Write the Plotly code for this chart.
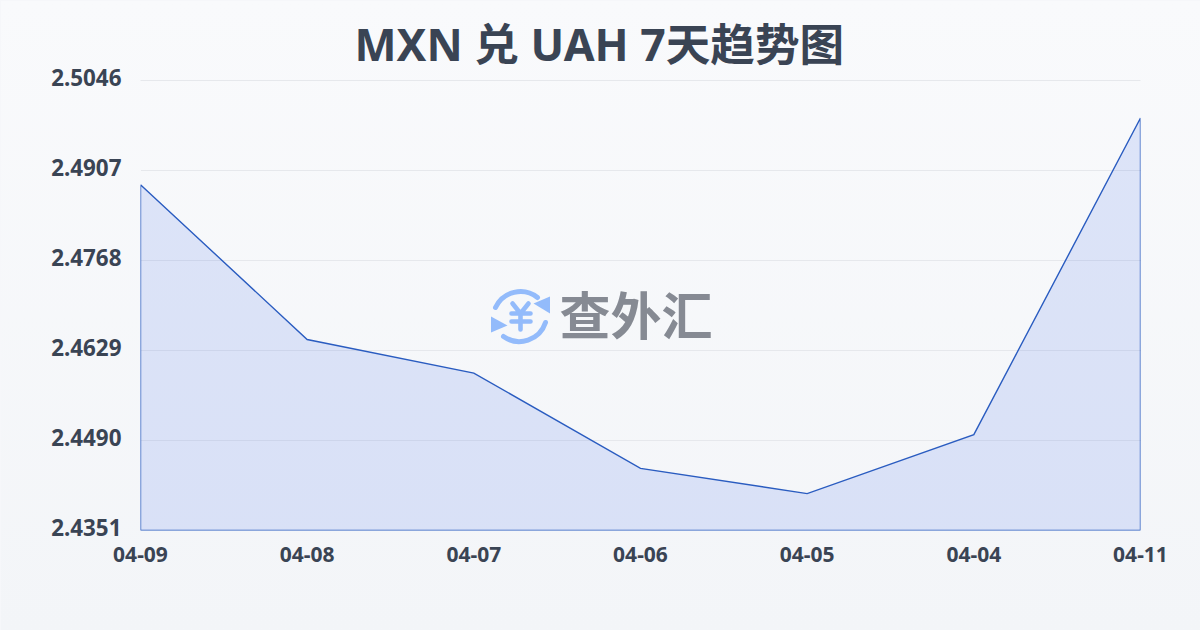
import base64
import plotly.graph_objects as go

TITLE = "MXN 兑 UAH 7天趋势图"
WATERMARK = "查外汇"
dates = ["04-09", "04-08", "04-07", "04-06", "04-05", "04-04", "04-11"]
rates = [2.4885, 2.4646, 2.4594, 2.4447, 2.4408, 2.4499, 2.4988]
y_ticks = [2.4351, 2.4490, 2.4629, 2.4768, 2.4907, 2.5046]
y_labels = ["2.4351", "2.4490", "2.4629", "2.4768", "2.4907", "2.5046"]

FONT = "'Noto Sans', 'Noto Sans CJK SC', sans-serif"
INK = "#3a4454"


def data_uri(svg):
    return "data:image/svg+xml;base64," + base64.b64encode(svg.encode("utf-8")).decode()


background = data_uri(
    '<svg xmlns="http://www.w3.org/2000/svg" width="1200" height="630" preserveAspectRatio="none">'
    '<defs><linearGradient id="g" x1="0" y1="0" x2="0" y2="1">'
    '<stop offset="0" stop-color="#f9fafc"/><stop offset="1" stop-color="#f3f5f8"/>'
    '</linearGradient></defs><rect width="1200" height="630" fill="url(#g)"/></svg>'
)

logo = data_uri(
    '<svg xmlns="http://www.w3.org/2000/svg" viewBox="0 0 60 60" width="60" height="60">'
    '<g fill="none" stroke="#93bbfb" stroke-width="5" stroke-linecap="round" stroke-linejoin="round">'
    '<path d="M5 22 A27.5 27.5 0 0 1 47 12"/>'
    '<path d="M55 37 A27.5 27.5 0 0 1 13 51"/>'
    '<path d="M22 18 L30 28 L38 18 M21 28 H40 M21 36 H40 M30 28 V44" stroke-width="4.6"/>'
    '</g>'
    '<path d="M59.5 11 L59.5 28 L43 18 Z" fill="#93bbfb"/>'
    '<path d="M0.5 31 L0.5 47 L17 40 Z" fill="#93bbfb"/>'
    '</svg>'
)

fig = go.Figure(
    go.Scatter(
        x=list(range(len(dates))) + [len(dates) - 1, 0, 0],
        y=rates + [y_ticks[0], y_ticks[0], rates[0]],
        mode="lines",
        fill="toself",
        fillcolor="rgba(64,110,235,0.15)",
        line=dict(color="#2a5cc0", width=1.4),
        cliponaxis=False,
        hoverinfo="skip",
        showlegend=False,
    )
)

fig.update_layout(
    width=1200,
    height=630,
    margin=dict(l=140, r=60, t=80, b=100),
    paper_bgcolor="rgba(0,0,0,0)",
    plot_bgcolor="rgba(0,0,0,0)",
    font=dict(family=FONT, color=INK),
    title=dict(
        text=f"<b>{TITLE}</b>",
        x=0.499,
        xanchor="center",
        y=0.929,
        yanchor="middle",
        font=dict(size=44.6, family=FONT, color=INK),
    ),
    xaxis=dict(
        range=[0, len(dates) - 1],
        tickvals=list(range(len(dates))),
        ticktext=dates,
        tickfont=dict(size=21, family=FONT, color=INK, weight=700),
        showgrid=False,
        zeroline=False,
        ticks="",
        showline=False,
        ticklabelstandoff=9,
    ),
    yaxis=dict(
        range=[y_ticks[0], y_ticks[-1]],
        tickvals=y_ticks,
        ticktext=y_labels,
        tickfont=dict(size=22.4, family=FONT, color=INK, weight=700),
        showgrid=True,
        gridcolor="#e6e8ec",
        gridwidth=1,
        zeroline=False,
        ticks="",
        showline=False,
        ticklabelstandoff=18,
        ticklabelshift=-2,
    ),
    shapes=[
        dict(type="line", xref="paper", yref="paper", x0=0, x1=1, y0=1, y1=1,
             line=dict(color="#e6e8ec", width=1), layer="below"),
    ],
    images=[
        dict(source=background, xref="paper", yref="paper", x=-140 / 1000, y=1 + 80 / 450,
             sizex=1.2, sizey=1.4, sizing="stretch", xanchor="left", yanchor="top", layer="below"),
        dict(source=logo, xref="paper", yref="paper", x=(520 - 140) / 1000, y=(530 - 315) / 450,
             sizex=60 / 1000, sizey=60 / 450, xanchor="center", yanchor="middle", layer="above"),
    ],
    annotations=[
        dict(
            text=f"<b>{WATERMARK}</b>",
            xref="paper", yref="paper",
            x=(635.5 - 140) / 1000, y=(530 - 312) / 450,
            xanchor="center", yanchor="middle",
            showarrow=False,
            font=dict(size=51, family="'Noto Sans CJK SC', sans-serif", color="#868a93"),
        )
    ],
)

fig.write_html(
    "out.html",
    config={"displayModeBar": False},
    post_script=(
        "document.body.style.margin='0';"
        "document.documentElement.style.background='#f6f7fa';"
        "document.querySelector('.plotly-graph-div').style.transform='translate(0.5px,0.5px)';"
    ),
)
